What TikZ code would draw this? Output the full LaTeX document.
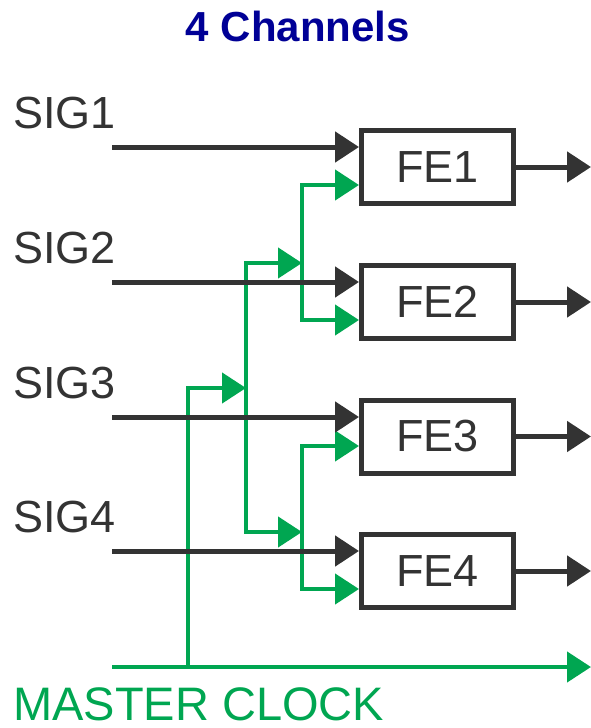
\documentclass[tikz,border=0pt]{standalone}
\usepackage{fontspec}
\setmainfont{Liberation Sans}
\usetikzlibrary{arrows.meta,calc}
\definecolor{ink}{RGB}{51,51,51}
\definecolor{clk}{RGB}{0,166,81}
\definecolor{navy}{RGB}{0,0,150}
\begin{document}
\begin{tikzpicture}[x=1pt,y=-1pt,
  febox/.style={draw=ink, line width=5pt, minimum width=152pt, minimum height=73pt,
    inner sep=0pt, text=ink, font=\fontsize{45}{50}\selectfont},
  lbl/.style={anchor=base west, inner sep=0pt, text=ink, font=\fontsize{45}{50}\selectfont},
  barr/.style={draw=ink, line width=5pt, -{Triangle[length=24pt,width=30pt]}},
  garr/.style={draw=clk, line width=4.5pt, -{Triangle[length=24pt,width=30pt]}},
  garrb/.style={draw=clk, line width=4.5pt, {Triangle[length=24pt,width=30pt]}-{Triangle[length=24pt,width=30pt]}},
]
\useasboundingbox (0,0) rectangle (591,728);

% title
\node[anchor=base, inner sep=0pt, text=navy, font=\bfseries\fontsize{42}{46}\selectfont] (title) at (298,41) {4 Channels};

% boxes
\node[febox] (fe1) at (437.5,167) {FE1};
\node[febox] (fe2) at (437.5,302) {FE2};
\node[febox] (fe3) at (437.5,436.5) {FE3};
\node[febox] (fe4) at (437.5,571) {FE4};

% labels
\node[lbl] (sig1) at (13,128) {SIG1};
\node[lbl] (sig2) at (13,263) {SIG2};
\node[lbl] (sig3) at (13,398) {SIG3};
\node[lbl] (sig4) at (13,532) {SIG4};
\node[anchor=base west, inner sep=0pt, text=clk, font=\fontsize{47}{50}\selectfont] (mclk) at (13,720) {MASTER CLOCK};

% coordinates
\coordinate (s1) at (112,147);
\coordinate (s2) at (112,282);
\coordinate (s3) at (112,417);
\coordinate (s4) at (112,551);
\coordinate (o1) at (591,167);
\coordinate (o2) at (591,302);
\coordinate (o3) at (591,436.5);
\coordinate (o4) at (591,571);
\coordinate (m0) at (112,667);
\coordinate (m1) at (591,667);
\coordinate (mc) at (188,667);
\coordinate (a3) at (246,388);
\coordinate (a1) at (302,263);
\coordinate (a2) at (302,532);
\coordinate (g1) at (fe1.west |- 0,185);
\coordinate (g2) at (fe2.west |- 0,320);
\coordinate (g3) at (fe3.west |- 0,446);
\coordinate (g4) at (fe4.west |- 0,589);

% green clock tree
\draw[garr] (m0) -- (m1);
\draw[garr] (mc) |- (a3);
\draw[garrb] (a1) -- (246,263) -- (246,532) -- (a2);
\draw[garrb] (g1) -| (a1) |- (g2);
\draw[garrb] (g3) -| (a2) |- (g4);

% signal inputs
\draw[barr] (s1) -- (fe1.west |- s1);
\draw[barr] (s2) -- (fe2.west |- s2);
\draw[barr] (s3) -- (fe3.west |- s3);
\draw[barr] (s4) -- (fe4.west |- s4);

% outputs
\draw[barr] (fe1.east) -- (o1);
\draw[barr] (fe2.east) -- (o2);
\draw[barr] (fe3.east) -- (o3);
\draw[barr] (fe4.east) -- (o4);
\end{tikzpicture}
\end{document}
